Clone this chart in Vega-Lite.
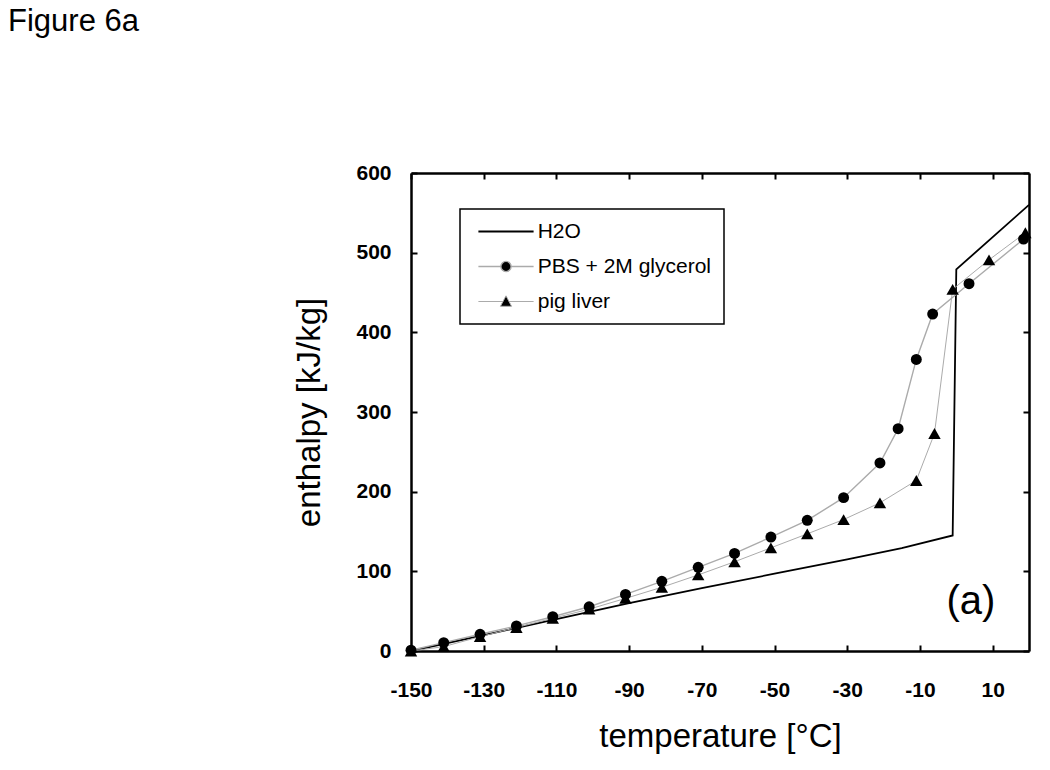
{
  "$schema": "https://vega.github.io/schema/vega-lite/v6.json",
  "width": 618,
  "height": 478,
  "autosize": {"type": "none"},
  "padding": {"left": 411, "top": 173, "right": 21, "bottom": 119},
  "background": "white",
  "title": {
    "text": "Figure 6a",
    "anchor": "start",
    "frame": "group",
    "dx": -403,
    "offset": 100,
    "baseline": "alphabetic",
    "font": "Liberation Sans",
    "fontSize": 31,
    "fontWeight": "normal",
    "color": "black"
  },
  "data": {
    "values": [
      {"series": "H2O", "temperature": -150, "enthalpy": 0},
      {"series": "H2O", "temperature": -130, "enthalpy": 20},
      {"series": "H2O", "temperature": -110, "enthalpy": 40},
      {"series": "H2O", "temperature": -90, "enthalpy": 60},
      {"series": "H2O", "temperature": -70, "enthalpy": 79},
      {"series": "H2O", "temperature": -50, "enthalpy": 97},
      {"series": "H2O", "temperature": -30, "enthalpy": 115},
      {"series": "H2O", "temperature": -15, "enthalpy": 129},
      {"series": "H2O", "temperature": -1, "enthalpy": 145},
      {"series": "H2O", "temperature": 0, "enthalpy": 479},
      {"series": "H2O", "temperature": 20, "enthalpy": 560},
      {"series": "PBS + 2M glycerol", "temperature": -150, "enthalpy": 1},
      {"series": "PBS + 2M glycerol", "temperature": -141, "enthalpy": 10.5},
      {"series": "PBS + 2M glycerol", "temperature": -131, "enthalpy": 21},
      {"series": "PBS + 2M glycerol", "temperature": -121, "enthalpy": 31.5},
      {"series": "PBS + 2M glycerol", "temperature": -111, "enthalpy": 43},
      {"series": "PBS + 2M glycerol", "temperature": -101, "enthalpy": 55.5},
      {"series": "PBS + 2M glycerol", "temperature": -91, "enthalpy": 71},
      {"series": "PBS + 2M glycerol", "temperature": -81, "enthalpy": 87.5},
      {"series": "PBS + 2M glycerol", "temperature": -71, "enthalpy": 105},
      {"series": "PBS + 2M glycerol", "temperature": -61, "enthalpy": 122.5},
      {"series": "PBS + 2M glycerol", "temperature": -51, "enthalpy": 143},
      {"series": "PBS + 2M glycerol", "temperature": -41, "enthalpy": 164},
      {"series": "PBS + 2M glycerol", "temperature": -31, "enthalpy": 192.5},
      {"series": "PBS + 2M glycerol", "temperature": -21, "enthalpy": 236},
      {"series": "PBS + 2M glycerol", "temperature": -16, "enthalpy": 279},
      {"series": "PBS + 2M glycerol", "temperature": -11, "enthalpy": 366},
      {"series": "PBS + 2M glycerol", "temperature": -6.5, "enthalpy": 423},
      {"series": "PBS + 2M glycerol", "temperature": 3.5, "enthalpy": 461},
      {"series": "PBS + 2M glycerol", "temperature": 18.5, "enthalpy": 517},
      {"series": "pig liver", "temperature": -150, "enthalpy": 0},
      {"series": "pig liver", "temperature": -141, "enthalpy": 5.5},
      {"series": "pig liver", "temperature": -131, "enthalpy": 18},
      {"series": "pig liver", "temperature": -121, "enthalpy": 29.5},
      {"series": "pig liver", "temperature": -111, "enthalpy": 41},
      {"series": "pig liver", "temperature": -101, "enthalpy": 52.5},
      {"series": "pig liver", "temperature": -91, "enthalpy": 66},
      {"series": "pig liver", "temperature": -81, "enthalpy": 80},
      {"series": "pig liver", "temperature": -71, "enthalpy": 95.5},
      {"series": "pig liver", "temperature": -61, "enthalpy": 112},
      {"series": "pig liver", "temperature": -51, "enthalpy": 129.5},
      {"series": "pig liver", "temperature": -41, "enthalpy": 147},
      {"series": "pig liver", "temperature": -31, "enthalpy": 165},
      {"series": "pig liver", "temperature": -21, "enthalpy": 186},
      {"series": "pig liver", "temperature": -11, "enthalpy": 214},
      {"series": "pig liver", "temperature": -6, "enthalpy": 273},
      {"series": "pig liver", "temperature": -1, "enthalpy": 454},
      {"series": "pig liver", "temperature": 9, "enthalpy": 491},
      {"series": "pig liver", "temperature": 19, "enthalpy": 525}
    ]
  },
  "layer": [
    {
      "mark": {"type": "line", "clip": false},
      "encoding": {
        "x": {
          "field": "temperature", "type": "quantitative",
          "scale": {"domain": [-150, 20], "nice": false, "zero": false},
          "axis": {
            "orient": "bottom",
            "values": [-150, -130, -110, -90, -70, -50, -30, -10, 10],
            "labelExpr": "'' + datum.value",
            "labelPadding": 34,
            "labelFlush": false,
            "labelOverlap": false,
            "title": "temperature [°C]",
            "titlePadding": 20
          }
        },
        "y": {
          "field": "enthalpy", "type": "quantitative",
          "scale": {"domain": [0, 600], "nice": false, "zero": false},
          "axis": {
            "orient": "left",
            "values": [0, 100, 200, 300, 400, 500, 600],
            "labelExpr": "'' + datum.value",
            "labelPadding": 26,
            "labelFlush": false,
            "labelOverlap": false,
            "title": "enthalpy [kJ/kg]",
            "titlePadding": 29
          }
        },
        "color": {
          "field": "series", "type": "nominal",
          "scale": {"domain": ["H2O", "PBS + 2M glycerol", "pig liver"], "range": ["#000000", "#ababab", "#ababab"]},
          "legend": {
            "title": null,
            "orient": "none",
            "legendX": 49,
            "legendY": 36,
            "padding": 12,
            "rowPadding": 13,
            "symbolOffset": 23.5,
            "labelOffset": 21.2,
            "labelLimit": 400,
            "symbolSize": 144,
            "strokeColor": "black",
            "fillColor": "white",
            "labelFont": "Liberation Sans",
            "labelFontSize": 21,
            "labelColor": "black",
            "encode": {
              "legend": {"update": {"strokeWidth": {"value": 1.5}}},
              "symbols": {
                "update": {
                  "shape": {"signal": "datum.value === 'H2O' ? 'M-4.6,0H4.6' : datum.value === 'pig liver' ? 'M-4.6,0H-0.5M0.5,0H4.6M0,-0.95L0.92,0.8L-0.92,0.8Z' : 'M-4.6,0H-0.85M0.85,0H4.6M-0.85,0A0.85,0.85,0,1,1,0.85,0A0.85,0.85,0,1,1,-0.85,0Z'"},
                  "fill": {"value": "black"},
                  "size": {"value": 144},
                  "strokeWidth": {"signal": "datum.value === 'H2O' ? 1.6 : 1"},
                  "opacity": {"value": 1}
                }
              }
            }
          }
        },
        "strokeWidth": {
          "field": "series", "type": "nominal",
          "scale": {"domain": ["H2O", "PBS + 2M glycerol", "pig liver"], "range": [1.8, 1, 1]},
          "legend": null
        }
      }
    },
    {
      "transform": [{"filter": "datum.series !== 'H2O'"}],
      "mark": {"type": "point", "filled": true, "opacity": 1, "color": "black", "clip": false},
      "encoding": {
        "x": {
          "field": "temperature", "type": "quantitative",
          "scale": {"domain": [-150, 20], "nice": false, "zero": false},
          "axis": {
            "orient": "top",
            "values": [-150, -130, -110, -90, -70, -50, -30, -10, 10],
            "labels": false,
            "title": null
          }
        },
        "y": {
          "field": "enthalpy", "type": "quantitative",
          "scale": {"domain": [0, 600], "nice": false, "zero": false},
          "axis": {
            "orient": "right",
            "values": [0, 100, 200, 300, 400, 500, 600],
            "labels": false,
            "title": null
          }
        },
        "shape": {
          "field": "series", "type": "nominal",
          "scale": {"domain": ["PBS + 2M glycerol", "pig liver"], "range": ["circle", "triangle-up"]},
          "legend": null
        },
        "size": {
          "field": "series", "type": "nominal",
          "scale": {"domain": ["PBS + 2M glycerol", "pig liver"], "range": [120, 155]},
          "legend": null
        }
      }
    },
    {
      "data": {"values": [{"label": "(a)", "temperature": 4, "enthalpy": 46}]},
      "mark": {"type": "text", "align": "center", "baseline": "alphabetic", "font": "Liberation Sans", "fontSize": 40, "color": "black"},
      "encoding": {
        "x": {"field": "temperature", "type": "quantitative", "axis": null},
        "y": {"field": "enthalpy", "type": "quantitative", "axis": null},
        "text": {"field": "label", "type": "nominal"}
      }
    }
  ],
  "resolve": {"axis": {"x": "independent", "y": "independent"}},
  "config": {
    "view": {"stroke": null},
    "font": "Liberation Sans",
    "axis": {
      "grid": false,
      "domainColor": "black",
      "domainWidth": 2.5,
      "tickColor": "black",
      "tickWidth": 2,
      "tickSize": -6,
      "labelColor": "black",
      "labelFont": "Liberation Sans",
      "labelFontSize": 21,
      "labelFontWeight": "bold",
      "titleFont": "Liberation Sans",
      "titleFontSize": 33,
      "titleFontWeight": "normal",
      "titleColor": "black"
    }
  }
}
